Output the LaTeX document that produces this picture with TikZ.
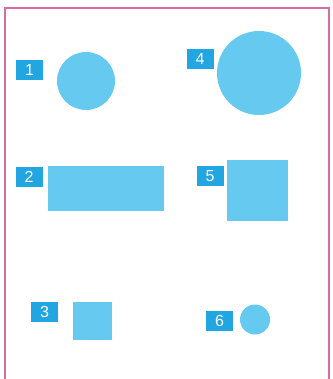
\documentclass[tikz,border=0pt]{standalone}
\usepackage{fontspec}
\setmainfont{Liberation Sans}
\definecolor{shapeblue}{RGB}{102,201,240}
\definecolor{tagblue}{RGB}{34,166,226}
\definecolor{framepink}{RGB}{210,110,165}

\begin{document}
\begin{tikzpicture}[
    x=1pt, y=-1pt,
    tag/.style={rectangle, fill=tagblue, text=white, inner sep=0pt, minimum width=27pt, minimum height=20pt, font=\fontsize{16}{16}\selectfont},
    disc/.style={circle, fill=shapeblue, inner sep=0pt},
    block/.style={rectangle, fill=shapeblue, inner sep=0pt}
]
\useasboundingbox (0,0) rectangle (332,379);
\draw[framepink, line width=1.1pt] (5,8) rectangle (329,390);

% left column
\node[disc, minimum size=58pt] (circA) at (86,81) {};
\node[tag] (tagA) at (29.5,70) {1};
\node[block, minimum width=116pt, minimum height=45pt] (rectB) at (106,188.5) {};
\node[tag] (tagB) at (29,177) {2};
\node[block, minimum width=39pt, minimum height=38pt] (rectC) at (92.5,321) {};
\node[tag] (tagC) at (44.5,312) {3};

% right column
\node[disc, minimum size=84pt] (circD) at (259,73) {};
\node[tag] (tagD) at (200,59) {4};
\node[block, minimum width=61pt, minimum height=61pt] (rectE) at (257.5,190.5) {};
\node[tag] (tagE) at (210,176) {5};
\node[disc, minimum size=30pt] (circF) at (255,319.5) {};
\node[tag] (tagF) at (219.5,321) {6};
\end{tikzpicture}
\end{document}
